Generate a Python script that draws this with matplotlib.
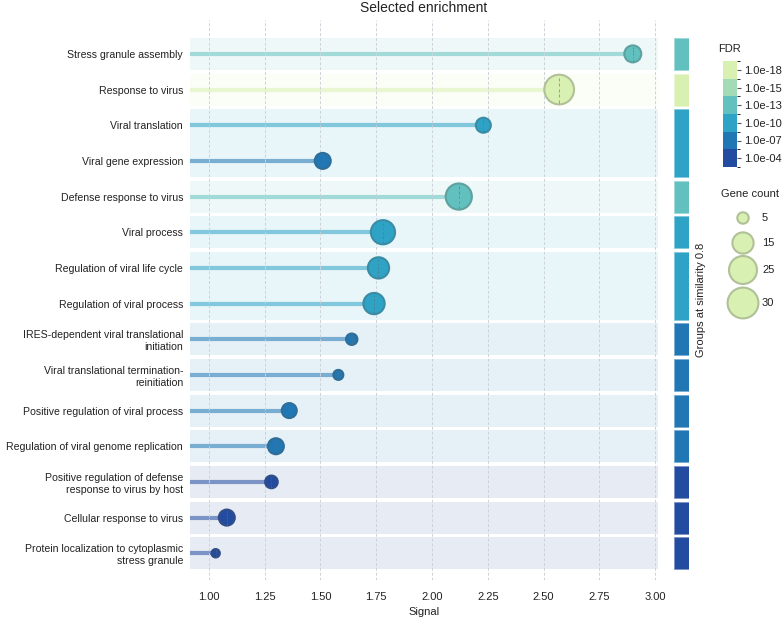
import numpy as np
import matplotlib
matplotlib.use("Agg")
import matplotlib.pyplot as plt
from matplotlib.colors import ListedColormap, BoundaryNorm, to_rgb
from matplotlib.patches import Rectangle
from matplotlib.path import Path
from matplotlib.cm import ScalarMappable

plt.rcParams['font.family'] = ['Liberation Sans', 'DejaVu Sans']

# ---- data ----
terms = ["Stress granule assembly",
         "Response to virus",
         "Viral translation",
         "Viral gene expression",
         "Defense response to virus",
         "Viral process",
         "Regulation of viral life cycle",
         "Regulation of viral process",
         "IRES-dependent viral translational\ninitiation",
         "Viral translational termination-\nreinitiation",
         "Positive regulation of viral process",
         "Regulation of viral genome replication",
         "Positive regulation of defense\nresponse to virus by host",
         "Cellular response to virus",
         "Protein localization to cytoplasmic\nstress granule"]
signal = [2.90, 2.57, 2.23, 1.51, 2.12, 1.78, 1.76, 1.74, 1.64, 1.58,
          1.36, 1.30, 1.28, 1.08, 1.03]
gene_count = [10, 28, 8, 9, 22, 19, 15, 15, 5, 4, 8, 9, 6, 9, 3]
fdr = [1e-13, 1e-18, 1e-10, 1e-07, 1e-13, 1e-10, 1e-10, 1e-10,
       1e-07, 1e-07, 1e-07, 1e-07, 1e-04, 1e-04, 1e-04]
groups = [[0], [1], [2, 3], [4], [5], [6, 7], [8], [9], [10], [11],
          [12], [13], [14]]

fdr_levels = [1e-18, 1e-15, 1e-13, 1e-10, 1e-07, 1e-04]
fdr_labels = ["1.0e-18", "1.0e-15", "1.0e-13", "1.0e-10", "1.0e-07", "1.0e-04"]
fdr_colors = ['#d9f0b3', '#a3dbb7', '#62c1bf', '#2ea3c6', '#2077b4', '#234b9f']
legend_counts = [5, 15, 25, 30]


def fdr_color(v):
    i = np.argmin(np.abs(np.log10(fdr_levels) - np.log10(v)))
    return fdr_colors[i]


def lighten(c, a):
    c = np.array(to_rgb(c))
    return tuple(1 - (1 - c) * a)


def edge_of(c):
    c = np.array(to_rgb(c))
    return tuple(c * 0.7 + 0.333 * 0.3)


def size_of(n):
    return (4.32 * np.sqrt(n) - 1.44) ** 2


# dashed vertical marker drawn through each dot
dash_verts, dash_codes = [], []
for k in range(5):
    y0 = -1 + k * 0.42
    dash_verts += [(0, y0), (0, y0 + 0.22)]
    dash_codes += [Path.MOVETO, Path.LINETO]
dash_marker = Path(dash_verts, dash_codes)

W, H = 784, 617
fig = plt.figure(figsize=(W / 100, H / 100), dpi=100)
ax = fig.add_axes([190 / W, 1 - 580 / H, 468 / W, 560 / H])

y = np.arange(len(terms))
xmin, xmax = 0.915, 3.013
ax.set_xlim(xmin, xmax)
ax.set_ylim(14.75, -0.95)

# background bands per group
for g in groups:
    gc = fdr_color(min(fdr[i] for i in g))
    top = g[0] - 0.45
    bot = g[-1] + 0.45
    ax.add_patch(Rectangle((xmin, top), xmax - xmin, bot - top,
                           facecolor=lighten(gc, 0.11), edgecolor='none', zorder=0))

ax.set_xticks([1.0, 1.25, 1.5, 1.75, 2.0, 2.25, 2.5, 2.75, 3.0])
ax.set_xticklabels(["1.00", "1.25", "1.50", "1.75", "2.00", "2.25", "2.50", "2.75", "3.00"])
ax.grid(axis='x', linestyle=(0, (3, 2)), color='#cdd2d9', linewidth=0.7, zorder=1)
ax.set_axisbelow(False)

cols = [fdr_color(v) for v in fdr]
for i in range(len(terms)):
    ax.plot([xmin, signal[i]], [y[i], y[i]], color=lighten(cols[i], 0.6),
            lw=3, solid_capstyle='butt', zorder=2)
ax.scatter(signal, y, s=[size_of(n) for n in gene_count], c=cols,
           edgecolors=[edge_of(c) for c in cols], linewidths=1.5, zorder=3)
ax.scatter(signal, y, s=[size_of(n) * 0.8 for n in gene_count], marker=dash_marker,
           facecolors='none', edgecolors='#5f6f78', linewidths=0.6, alpha=0.7, zorder=4)

ax.set_yticks(y)
ax.set_yticklabels(terms, fontsize=7.6, color='#222222')
ax.tick_params(axis='x', length=0, colors='#222222', labelsize=8, pad=9)
ax.tick_params(axis='y', length=0, colors='#222222', pad=5)
for s in ax.spines.values():
    s.set_visible(False)
ax.set_xlabel("Signal", fontsize=8, color='#222222', labelpad=3)

fig.text(424 / W, 1 - 8 / H, "Selected enrichment", ha='center', va='center',
         fontsize=10, color='#222222')

# group bars on the right
gax = fig.add_axes([674 / W, 1 - 580 / H, 15 / W, 560 / H])
gax.set_xlim(0, 1)
gax.set_ylim(14.75, -0.95)
for g in groups:
    gc = fdr_color(min(fdr[i] for i in g))
    top = g[0] - 0.45
    bot = g[-1] + 0.45
    gax.add_patch(Rectangle((0, top), 1, bot - top, facecolor=gc,
                            edgecolor=lighten(gc, 0.6), linewidth=0.6))
gax.set_xticks([])
gax.set_yticks([])
for s in gax.spines.values():
    s.set_visible(False)
gax.yaxis.set_label_position('right')
gax.set_ylabel("Groups at similarity 0.8", fontsize=8, color='#222222', labelpad=5)

# FDR colour bar
cax = fig.add_axes([723 / W, 1 - 167 / H, 14 / W, 106 / H])
cmap = ListedColormap(fdr_colors[::-1])
norm = BoundaryNorm(np.arange(7), cmap.N)
cb = fig.colorbar(ScalarMappable(norm=norm, cmap=cmap), cax=cax,
                  ticks=np.arange(6) + 0.5)
cb.set_ticklabels(fdr_labels[::-1])
cb.outline.set_visible(False)
cax.tick_params(length=3, width=0.8, color='#555555', labelsize=8,
                labelcolor='#222222', pad=2)
fig.text(718 / W, 1 - 49 / H, "FDR", ha='left', va='center', fontsize=8,
         color='#222222')

# gene count legend
fig.text(750 / W, 1 - 194 / H, "Gene count", ha='center', va='center',
         fontsize=8, color='#222222')
lax = fig.add_axes([715 / W, 1 - 325 / H, 69 / W, 120 / H])
lax.set_xlim(715, 784)
lax.set_ylim(325, 205)
leg_y = [218, 243, 270, 303]
lax.scatter([743] * 4, leg_y, s=[size_of(n) for n in legend_counts],
            c=fdr_colors[0], edgecolors=edge_of(fdr_colors[0]), linewidths=1.5,
            clip_on=False)
for yy, n in zip(leg_y, legend_counts):
    lax.text(762, yy, str(n), ha='left', va='center', fontsize=8, color='#222222')
lax.axis('off')

fig.savefig("out.png", dpi=100)
